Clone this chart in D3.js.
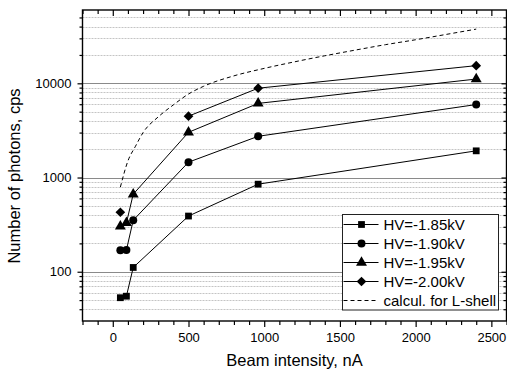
<!DOCTYPE html>
<html>
<head>
<meta charset="utf-8">
<script src="https://cdn.jsdelivr.net/npm/d3@7"></script>
<style>
  body { margin: 0; background: #fff; }
  svg { display: block; font-family: "Liberation Sans", Arial, sans-serif; }
</style>
</head>
<body>
<div id="chart"></div>
<script>

// beam intensity (nA) shared by the measured series, null = no point
var beam = [50, 90, 135, 500, 960, 2400];

var hv185 = [53, 55, 111, 390, 850, 1920];
var hv190 = [169, 170, 352, 1455, 2740, 5950];
var hv195 = [304, 330, 665, 3020, 6120, 11100];
var hv200 = [428, null, null, 4480, 8870, 15400];

// calculated curve for the L-shell
var calcX = [50, 100, 150, 200, 300, 400, 500, 600, 800, 1000, 1200, 1400, 1600, 1800, 2000, 2200, 2400];
var calcY = [790, 1500, 2150, 3000, 4400, 5900, 7700, 9300, 12000, 14400, 16900, 19600, 22500, 25700, 29000, 33000, 37600];

var seriesNames = ["HV=-1.85kV", "HV=-1.90kV", "HV=-1.95kV", "HV=-2.00kV"];
var calcName = "calcul. for L-shell";

var xTicks = [0, 500, 1000, 1500, 2000, 2500];
var yTicks = [100, 1000, 10000];

var W = 507, H = 373;
var margin = {top: 10, right: 0.5, bottom: 52, left: 82.5};
var width = W - margin.left - margin.right,
    height = H - margin.top - margin.bottom;

var svg = d3.select("#chart").append("svg")
  .attr("width", W)
  .attr("height", H);

var g = svg.append("g")
  .attr("transform", "translate(" + margin.left + "," + margin.top + ")");

var x = d3.scaleLinear().domain([-200, 2600]).range([0, width]);
var y = d3.scaleLog().domain([30, 60000]).range([height, 0]);

// minor values on the log axis (2..9 of each decade)
var minorY = [];
[10, 100, 1000, 10000].forEach(function(dec) {
  for (var k = 2; k <= 9; k++) {
    var v = dec * k;
    if (v > 30 && v < 60000 && yTicks.indexOf(v) < 0) minorY.push(v);
  }
});
var minorX = d3.range(-200, 2601, 100).filter(function(v) { return xTicks.indexOf(v) < 0; });

// grid lines
g.selectAll(".gminor").data(minorY).enter().append("line")
  .attr("x1", 0).attr("x2", width)
  .attr("y1", function(d) { return Math.round(y(d)) + 0.5; })
  .attr("y2", function(d) { return Math.round(y(d)) + 0.5; })
  .attr("stroke", "#c4c4c4")
  .attr("stroke-dasharray", "2,1");

g.selectAll(".gmajor").data(yTicks).enter().append("line")
  .attr("x1", 0).attr("x2", width)
  .attr("y1", function(d) { return Math.round(y(d)) + 0.5; })
  .attr("y2", function(d) { return Math.round(y(d)) + 0.5; })
  .attr("stroke", "#8a8a8a");

// axes
function styleAxis(sel) {
  sel.select(".domain").remove();
  sel.selectAll("line").attr("stroke", "#000").attr("stroke-width", 1.2);
  sel.selectAll("text").attr("fill", "#000").style("font-size", "13px");
}

g.append("g").attr("transform", "translate(0," + height + ")")
  .call(d3.axisBottom(x).tickValues(xTicks).tickSize(6).tickPadding(6).tickFormat(d3.format("d")))
  .call(styleAxis);
g.append("g").attr("transform", "translate(0," + height + ")")
  .call(d3.axisBottom(x).tickValues(minorX).tickSize(4).tickFormat(""))
  .call(styleAxis);

g.append("g")
  .call(d3.axisTop(x).tickValues(xTicks).tickSize(-6).tickFormat(""))
  .call(styleAxis);
g.append("g")
  .call(d3.axisTop(x).tickValues(minorX).tickSize(-4).tickFormat(""))
  .call(styleAxis);

g.append("g")
  .call(d3.axisLeft(y).tickValues(yTicks).tickSize(5).tickPadding(6).tickFormat(d3.format("d")))
  .call(styleAxis);
g.append("g")
  .call(d3.axisLeft(y).tickValues(minorY).tickSize(3).tickFormat(""))
  .call(styleAxis);

g.append("g").attr("transform", "translate(" + width + ",0)")
  .call(d3.axisRight(y).tickValues(yTicks).tickSize(-5).tickFormat(""))
  .call(styleAxis);
g.append("g").attr("transform", "translate(" + width + ",0)")
  .call(d3.axisRight(y).tickValues(minorY).tickSize(-3).tickFormat(""))
  .call(styleAxis);

// frame
g.append("rect")
  .attr("width", width).attr("height", height)
  .attr("fill", "none").attr("stroke", "#000").attr("stroke-width", 1.4);

// axis titles
svg.append("text")
  .attr("x", margin.left + width / 2).attr("y", 366)
  .attr("text-anchor", "middle")
  .style("font-size", "16.5px")
  .text("Beam intensity, nA");

svg.append("text")
  .attr("transform", "translate(20," + 176 + ") rotate(-90)")
  .attr("text-anchor", "middle")
  .style("font-size", "16.5px")
  .text("Number of photons, cps");

// calculated curve
var calcLine = d3.line()
  .x(function(d) { return x(d[0]); })
  .y(function(d) { return y(d[1]); })
  .curve(d3.curveMonotoneX);

g.append("path")
  .datum(d3.zip(calcX, calcY))
  .attr("d", calcLine)
  .attr("fill", "none")
  .attr("stroke", "#000")
  .attr("stroke-width", 1)
  .attr("stroke-dasharray", "4,3");

// measured series
var symbols = [d3.symbolSquare, d3.symbolCircle, d3.symbolTriangle, d3.symbolDiamond2];
var symSizes = [46, 50, 52, 60];
var allSeries = [hv185, hv190, hv195, hv200];

var line = d3.line()
  .defined(function(d) { return d[1] != null; })
  .x(function(d) { return x(d[0]); })
  .y(function(d) { return y(d[1]); });

allSeries.forEach(function(vals, i) {
  var pts = d3.zip(beam, vals);
  g.append("path")
    .datum(pts)
    .attr("d", line)
    .attr("fill", "none")
    .attr("stroke", "#000")
    .attr("stroke-width", 1);

  g.selectAll(".pt" + i)
    .data(pts.filter(function(d) { return d[1] != null; }))
    .enter().append("path")
      .attr("transform", function(d) { return "translate(" + x(d[0]) + "," + y(d[1]) + ")"; })
      .attr("d", d3.symbol().type(symbols[i]).size(symSizes[i]))
      .attr("fill", "#000");
});

// legend
var lg = svg.append("g").attr("transform", "translate(342.5,214.5)");
lg.append("rect")
  .attr("width", 156).attr("height", 95.5)
  .attr("fill", "#fff").attr("stroke", "#222").attr("stroke-width", 1);

var legendRows = seriesNames.concat([calcName]);
legendRows.forEach(function(name, i) {
  var ry = 10 + i * 19;
  lg.append("line")
    .attr("x1", 1).attr("x2", 36)
    .attr("y1", ry).attr("y2", ry)
    .attr("stroke", "#000")
    .attr("stroke-dasharray", i == 4 ? "4,3" : null);
  if (i < 4) {
    lg.append("path")
      .attr("transform", "translate(19," + ry + ")")
      .attr("d", d3.symbol().type(symbols[i]).size(symSizes[i]))
      .attr("fill", "#000");
  }
  lg.append("text")
    .attr("x", 41).attr("y", ry + 5.5)
    .style("font-size", "15px")
    .text(name);
});

</script>
</body>
</html>
